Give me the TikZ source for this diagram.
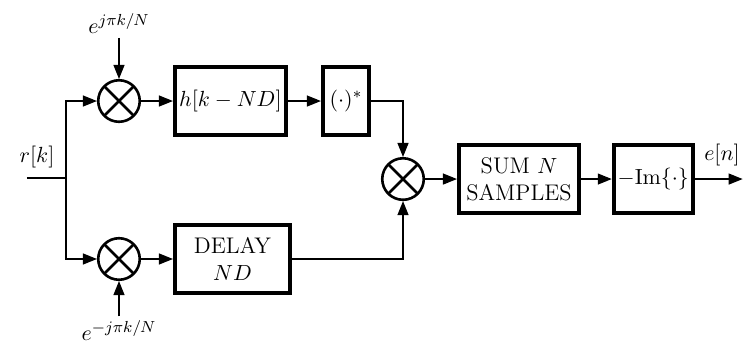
\documentclass[tikz,border=0pt]{standalone}
\usepackage{amsmath}
\usetikzlibrary{arrows.meta, positioning}

\begin{document}
\begin{tikzpicture}[
  every node/.style={font=\fontsize{11.3pt}{13.6pt}\selectfont},
  blk/.style={draw, line width=2pt, minimum height=1.21cm, inner sep=1pt, align=center},
  mult/.style={draw, circle, line width=1.3pt, minimum size=0.73cm, inner sep=0pt,
    path picture={\draw[line width=1.3pt] (path picture bounding box.north west) -- (path picture bounding box.south east)
      (path picture bounding box.north east) -- (path picture bounding box.south west);}},
  lbl/.style={inner sep=2pt},
  arr/.style={-{Triangle[length=7pt, width=5.5pt]}, line width=0.6pt},
  ln/.style={line width=0.6pt}
]
\useasboundingbox (0,0) rectangle (13.127,-6.256);

% mixers
\node[mult] (mul1) at (2.091,-1.775) {};
\node[mult] (mul2) at (2.091,-4.551) {};
\node[mult] (mul3) at (7.082,-3.146) {};

% upper branch
\node[blk, minimum width=1.95cm, right=0.56cm of mul1] (filt) {$h[k-ND]$};
\node[blk, minimum width=0.81cm, right=0.58cm of filt] (conj) {$(\cdot)^*$};

% lower branch
\node[blk, minimum width=2.02cm, right=0.56cm of mul2] (delay) {DELAY\\$ND$};

% output chain
\node[blk, minimum width=2.11cm, right=0.56cm of mul3] (sum) {SUM $N$\\SAMPLES};
\node[blk, minimum width=1.39cm, right=0.54cm of sum] (imag) {$-\mathrm{Im}\{\cdot\}$};
\coordinate[right=0.84cm of imag] (out);

% input
\coordinate (in) at (0.474,-3.128);
\coordinate (split) at (1.160,-3.128);
\node[lbl] (rlab) at (0.650,-2.759) {$r[k]$};

% oscillators
\node[lbl, above=0.72cm of mul1] (osc1) {$e^{j\pi k/N}$};
\node[lbl, below=0.62cm of mul2] (osc2) {$e^{-j\pi k/N}$};
\node[lbl] (elab) at (12.688,-2.724) {$e[n]$};

\draw[ln] (in) -- (split);
\draw[arr] (split) |- (mul1);
\draw[arr] (split) |- (mul2);
\draw[arr] (osc1) -- (mul1);
\draw[arr] (osc2) -- (mul2);
\draw[arr] (mul1) -- (filt);
\draw[arr] (filt) -- (conj);
\draw[arr] (mul2) -- (delay);
\draw[arr] (conj) -| (mul3);
\draw[arr] (delay) -| (mul3);
\draw[arr] (mul3) -- (sum);
\draw[arr] (sum) -- (imag);
\draw[arr] (imag) -- (out);
\end{tikzpicture}
\end{document}
